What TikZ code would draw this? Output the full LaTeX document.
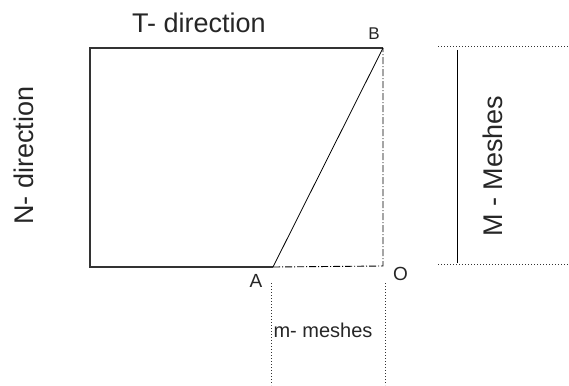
\documentclass[tikz,border=0pt]{standalone}
\usepackage{fontspec}
\setmainfont{Liberation Sans}
\usetikzlibrary{positioning}
\definecolor{ink}{HTML}{333333}

\begin{document}
\begin{tikzpicture}[x=1pt, y=-1pt,
  edge/.style={line width=1.1pt, ink},
  diag/.style={line width=0.8pt, black},
  dashdot/.style={line width=0.9pt, black, dash pattern=on 7pt off 2pt on 1pt off 2pt},
  guide/.style={line width=1pt, ink, dotted},
  big/.style={font=\fontsize{27}{30}\selectfont, inner sep=0pt, anchor=base, text=black!85},
  small/.style={font=\fontsize{19}{21}\selectfont, inner sep=0pt, anchor=base, text=black!85}]
  \useasboundingbox (0,0) rectangle (569,385);
  % corners of the domain
  \coordinate (tl) at (90,48);
  \coordinate (bl) at (90,267);
  \coordinate (A) at (273,267);
  \coordinate (B) at (383,48);
  \coordinate (O) at (383,266);
  % guide ends
  \coordinate (Mtop) at (438,47);   \coordinate (Mtopend) at (569,47);
  \coordinate (Mbot) at (438,264);  \coordinate (Mbotend) at (569,264);
  \coordinate (Mup) at (457,50);    \coordinate (Mdown) at (457,263);
  \coordinate (ma) at (271,283);    \coordinate (maend) at (271,385);
  \coordinate (mo) at (385,283);    \coordinate (moend) at (385,385);

  \draw[edge] (A) -- (bl) -- (tl) -- (B);
  \draw[diag] (A) -- (B);
  \draw[dashdot] (A) -- (O) -- (B);
  \draw[guide] (Mtop) -- (Mtopend);
  \draw[guide] (Mbot) -- (Mbotend);
  \draw[line width=1pt, black] (Mup) -- (Mdown);
  \draw[guide] (ma) -- (maend);
  \draw[guide] (mo) -- (moend);

  \node[big] (tdir) at (199,32.5) {T- direction};
  \node[big, rotate=90] (ndir) at (33,155.5) {N- direction};
  \node[big, rotate=90] (mmesh) at (502,166) {M - Meshes};
  \node[small, font=\fontsize{17}{19}\selectfont] (Blab) at (374,40) {B};
  \node[small] (Alab) at (256,287) {A};
  \node[small] (Olab) at (400.5,280) {O};
  \node[small, font=\fontsize{20}{22}\selectfont] (mlab) at (323,337) {m- meshes};
\end{tikzpicture}
\end{document}
